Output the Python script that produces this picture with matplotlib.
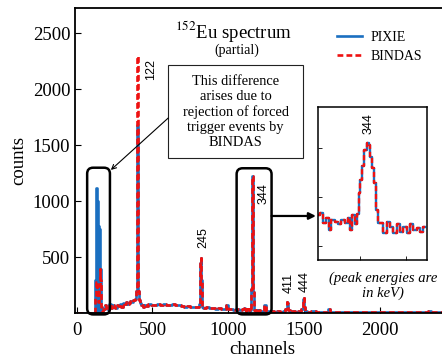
"""
152Eu spectrum (partial): PIXIE vs BINDAS, with a log-scale zoom of the 344 keV peak.
"""
import matplotlib
matplotlib.use("Agg")
import matplotlib.pyplot as plt
from matplotlib.patches import FancyBboxPatch, Rectangle

# ---- data ------------------------------------------------------------------
# low part of the spectrum (0 - 1100 ch): the two DAQs differ around the
# forced-trigger region and at the top of the 122 keV peak
ch_low = [0, 20, 40, 60, 80, 100, 115, 120, 125, 130, 135, 140, 145, 150, 155,
          160, 165, 170, 175, 180, 190, 200, 210, 220, 230, 240, 250, 260, 270,
          280, 290, 300, 310, 320, 330, 340, 350, 360, 370, 380, 390, 395, 398,
          400, 402, 404, 406, 410, 415, 420, 430, 440, 450, 460, 480, 500, 520,
          540, 560, 580, 600, 620, 640, 660, 680, 700, 720, 740, 760, 780, 800,
          808, 812, 815, 818, 821, 825, 830, 840, 860, 880, 900, 920, 940, 960,
          980, 990, 1000, 1020, 1040, 1060, 1080, 1100]
pixie_low = [0, 0, 0, 0, 0, 0, 0, 0, 300, 1120, 1100, 1000, 780, 750, 740,
             400, 60, 20, 30, 40, 70, 50, 30, 80, 50, 70, 60, 50, 75,
             65, 80, 60, 90, 80, 100, 85, 95, 110, 100, 120, 130, 200, 700,
             1500, 1680, 1300, 500, 200, 120, 90, 70, 60, 75, 65, 80, 70, 75,
             80, 70, 80, 75, 70, 80, 75, 70, 65, 60, 65, 55, 60, 55,
             80, 250, 450, 490, 300, 90, 60, 50, 55, 45, 50, 40, 45, 35,
             40, 75, 40, 35, 30, 35, 30, 35]
bindas_low = [0, 0, 0, 0, 0, 0, 0, 0, 150, 280, 290, 200, 100, 250, 400,
              300, 60, 20, 30, 40, 70, 50, 30, 80, 50, 70, 60, 50, 75,
              65, 80, 60, 90, 80, 100, 85, 95, 110, 100, 120, 130, 200, 700,
              1500, 2300, 1300, 500, 200, 120, 90, 70, 60, 75, 65, 80, 70, 75,
              80, 70, 80, 75, 70, 80, 75, 70, 65, 60, 65, 55, 60, 55,
              80, 250, 450, 490, 300, 90, 60, 50, 55, 45, 50, 40, 45, 35,
              40, 75, 40, 35, 30, 35, 30, 35]

# 344 keV region (same for both, also shown in the inset)
ch_344 = [1103, 1107, 1111, 1114, 1116, 1120, 1124, 1127, 1131, 1135, 1138,
          1140, 1142, 1146, 1147, 1149, 1151, 1153, 1156, 1158, 1160, 1162,
          1164, 1166, 1168, 1170, 1173, 1177, 1181, 1184, 1188, 1192, 1195,
          1199, 1203, 1206, 1210, 1214, 1217, 1221]
counts_344 = [42, 46, 29, 36, 21, 34, 31, 27, 34, 29, 36,
              21, 42, 27, 45, 120, 220, 420, 900, 1230, 1100, 655,
              380, 190, 53, 29, 29, 18, 31, 24, 18, 27, 19,
              24, 18, 27, 21, 23, 19, 24]

# high part (same for both)
ch_high = [1230, 1245, 1250, 1270, 1290, 1310, 1330, 1350, 1370, 1380, 1385,
           1390, 1395, 1410, 1430, 1450, 1470, 1485, 1492, 1497, 1502, 1510,
           1530, 1560, 1590, 1620, 1650, 1665, 1670, 1700, 1750, 1800, 1850,
           1900, 1950, 2000, 2050, 2100, 2150, 2200, 2250, 2300, 2330, 2340,
           2380, 2420, 2460]
counts_high = [20, 70, 20, 18, 20, 15, 18, 15, 18, 40, 100,
               90, 30, 15, 18, 15, 18, 40, 130, 140, 60, 18,
               15, 18, 14, 16, 12, 40, 12, 14, 12, 13, 10,
               12, 10, 11, 9, 10, 9, 10, 8, 9, 25, 8,
               9, 8, 8]

peak_labels = ["122", "245", "344", "411", "444"]
peak_label_pos = [(494, 2180), (834, 672), (1229, 1065), (1394, 268), (1504, 282)]

BLUE = "#1a6fc0"
RED = "#ee1111"

plt.rcParams["font.family"] = ["Liberation Serif", "DejaVu Serif"]
plt.rcParams["mathtext.fontset"] = "stix"

fig = plt.figure(figsize=(4.42, 3.62), dpi=100)
ax = fig.add_axes([75 / 442, 48.7 / 362, 375.2 / 442, 305.3 / 362])

ch = ch_low + ch_344 + ch_high
pixie = pixie_low + counts_344 + counts_high
bindas = bindas_low + counts_344 + counts_high

# PIXIE forced-trigger bump is so dense it reads as a solid block
n_ft = 18  # points up to channel 170
ax.fill_between(ch[:n_ft], pixie[:n_ft], step="mid", color=BLUE, lw=0)
ax.plot(ch, pixie, color=BLUE, lw=1.9, drawstyle="steps-mid", label="PIXIE")
ax.plot(ch, bindas, color=RED, lw=1.9, ls=(0, (2.2, 1.2)), drawstyle="steps-mid",
        label="BINDAS")

ax.set_xlim(-10, 2460)
ax.set_ylim(0, 2726)
ax.set_xticks([0, 500, 1000, 1500, 2000])
ax.set_yticks([500, 1000, 1500, 2000, 2500])
ax.tick_params(direction="in", length=4, width=0.8, labelsize=13.5)
ax.tick_params(axis="x", pad=6)
for s in ax.spines.values():
    s.set_linewidth(1.3)
ax.set_xlabel("channels", fontsize=13.5, labelpad=2)
ax.set_ylabel("counts", fontsize=13.5, labelpad=4)

ax.legend(loc="upper left", bbox_to_anchor=(337 / 442, 1 - 31 / 362),
          bbox_transform=fig.transFigure, frameon=False, fontsize=10,
          handlelength=1.8, handletextpad=0.6, labelspacing=0.45,
          borderpad=0, borderaxespad=0)

# title
ax.text(1034, 2520, r"$^{152}$Eu spectrum", fontsize=13.5, ha="center", va="center")
ax.text(1056, 2351, "(partial)", fontsize=10, ha="center", va="center")

# peak energy labels
for lab, (x, y) in zip(peak_labels, peak_label_pos):
    ax.text(x, y, lab, rotation=90, ha="center", va="center", fontsize=9,
            family=["Liberation Sans", "DejaVu Sans"])

# explanation box + arrow
ax.add_patch(Rectangle((604, 1387), 888, 827, fill=False, lw=0.8, ec="#222222"))
ax.text(1048, 1800, "This difference\narises due to\nrejection of forced\n"
        "trigger events by\nBINDAS", ha="center", va="center", fontsize=10.4,
        linespacing=1.2)
ax.annotate("", xy=(226, 1280), xytext=(604, 1744),
            arrowprops=dict(arrowstyle="->", lw=0.8, color="black",
                            mutation_scale=8, shrinkA=0, shrinkB=0))

ax.text(2017, 244, "(peak energies are\nin keV)", ha="center", va="center",
        fontsize=10.5, style="italic", linespacing=1.15)

# rounded boxes, drawn in pixels so the corners stay round
fig.canvas.draw()
for (x0, y0, x1, y1) in [(70, -10, 220, 1300), (1054, -10, 1284, 1295)]:
    (px0, py0), (px1, py1) = ax.transData.transform([(x0, y0), (x1, y1)])
    ax.add_patch(FancyBboxPatch((px0, py0), px1 - px0, py1 - py0,
                                boxstyle="round,pad=0,rounding_size=6",
                                fill=False, lw=1.8, ec="black",
                                transform=None, clip_on=False, zorder=5))

ax.annotate("", xy=(1576, 869), xytext=(1284, 869),
            arrowprops=dict(arrowstyle="-|>", lw=1.6, color="black",
                            mutation_scale=10, shrinkA=0, shrinkB=0))

# inset: 344 keV peak on a log scale
axin = fig.add_axes([317.7 / 442, 102 / 362, 109 / 442, 152.7 / 362])
axin.plot(ch_344, counts_344, color=BLUE, lw=1.7, drawstyle="steps-mid")
axin.plot(ch_344, counts_344, color=RED, lw=1.7, ls=(0, (2.2, 1.2)),
          drawstyle="steps-mid")
axin.set_yscale("log")
axin.set_xlim(1103, 1223)
axin.set_ylim(5.1, 6600)
axin.set_xticks([1150, 1200])
axin.set_yticks([10, 100, 1000])
axin.yaxis.set_minor_locator(matplotlib.ticker.NullLocator())
axin.tick_params(direction="in", length=3, width=0.6, labelbottom=False,
                 labelleft=False)
for s in axin.spines.values():
    s.set_linewidth(1.1)
axin.text(1159, 3050, "344", rotation=90, ha="center", va="center", fontsize=9,
          family=["Liberation Sans", "DejaVu Sans"])

fig.savefig("out.png", dpi=100)
